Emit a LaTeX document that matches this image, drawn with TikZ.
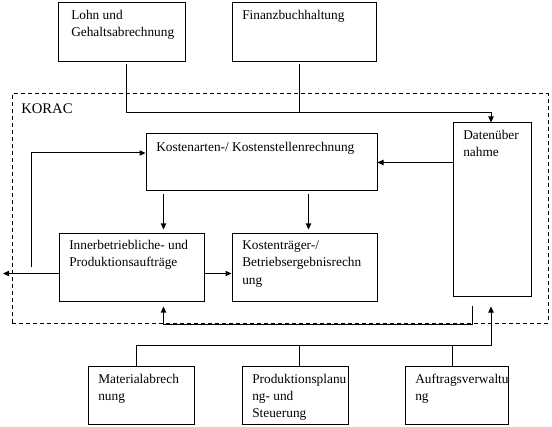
\documentclass[tikz,border=0pt]{standalone}
\usepackage{fontspec}
\setmainfont{Liberation Serif}
\usetikzlibrary{arrows.meta,fit,calc}
\begin{document}
\begin{tikzpicture}[x=0.75pt,y=-0.75pt,
  box/.style={draw,line width=0.75pt,inner sep=0pt},
  korbox/.style={draw,line width=0.75pt,inner sep=0pt,dash pattern=on 3pt off 2.25pt},
  txt/.style={inner sep=0pt,anchor=base west,font=\fontsize{10}{12}\selectfont},
  conn/.style={line width=0.75pt},
  arr/.style={line width=0.75pt,-{Triangle[length=4.5pt,width=4pt]}}]
\useasboundingbox (0,0) rectangle (552,427);
% boxes
\node[box,fit={(58,3) (185,62)}] (lohn) {};
\node[box,fit={(232,3) (376,62)}] (finanz) {};
\node[korbox,fit={(12,94) (548,323)}] (korac) {};
\node[box,fit={(146,134) (377,191)}] (kosten) {};
\node[box,fit={(453,123) (531,296)}] (daten) {};
\node[box,fit={(59,234) (204,301)}] (inner) {};
\node[box,fit={(232,234) (377,301)}] (traeger) {};
\node[box,fit={(88,366) (194,424)}] (material) {};
\node[box,fit={(242,366) (348,424)}] (prod) {};
\node[box,fit={(405,366) (508,424)}] (auftrag) {};
% texts
\node[txt] (t1) at (71,19.5) {Lohn und};
\node[txt] (t2) at (71,36.5) {Gehaltsabrechnung};
\node[txt] (t3) at (242,20) {Finanzbuchhaltung};
\node[txt,font=\fontsize{11}{13}\selectfont] (t4) at (21,114) {KORAC};
\node[txt] (t5) at (156,152) {Kostenarten-/ Kostenstellenrechnung};
\node[txt] (t6) at (463,140) {Datenüber};
\node[txt] (t7) at (463,157) {nahme};
\node[txt] (t8) at (69,250) {Innerbetriebliche- und};
\node[txt] (t9) at (69,267) {Produktionsaufträge};
\node[txt] (t10) at (242,250) {Kostenträger-/};
\node[txt] (t11) at (242,267) {Betriebsergebnisrechn};
\node[txt] (t12) at (242,284) {ung};
\node[txt] (t13) at (98,383) {Materialabrech};
\node[txt] (t14) at (98,400) {nung};
\node[txt] (t15) at (252,383) {Produktionsplanu};
\node[txt] (t16) at (252,400) {ng- und};
\node[txt] (t17) at (252,417) {Steuerung};
\node[txt] (t18) at (415,383) {Auftragsverwaltu};
\node[txt] (t19) at (415,400) {ng};
% connectors
\coordinate (bus) at (491,113);
\draw[arr] ($(lohn.south west)+(69,2)$) |- (bus) -- ($(daten.north)+(-1,0)$);
\draw[conn] ($(finanz.south west)+(68,2)$) -- ($(finanz.south west)+(68,51)$);
\draw[arr] (daten.west |- kosten.east) -- (kosten.east);
\draw[arr] ($(kosten.south west)+(18,3)$) -- ($(inner.north west)+(105,-4)$);
\draw[arr] ($(kosten.south west)+(163,3)$) -- ($(traeger.north west)+(77,-4)$);
\draw[arr] ($(inner.east)+(0,6)$) -- ($(traeger.west)+(0,6)$);
\coordinate (outleft) at (3,273.5);
\draw[arr] ($(inner.west)+(0,6)$) -- (outleft);
\coordinate (fb) at (31,267);
\draw[arr] (fb) |- ($(kosten.west)+(0,-9.5)$);
\draw[arr] ($(daten.south west)+(20,9)$) -- ++(0,19) -| ($(inner.south west)+(105,5)$);
\draw[arr] ($(material.north west)+(49,0)$) |- ($(daten.south)+(-1,49)$) -- ($(daten.south)+(-1,10)$);
\draw[conn] ($(prod.north west)+(58,0)$) -- ++(0,-21);
\draw[conn] ($(auftrag.north west)+(48,0)$) -- ++(0,-21);
\end{tikzpicture}
\end{document}
